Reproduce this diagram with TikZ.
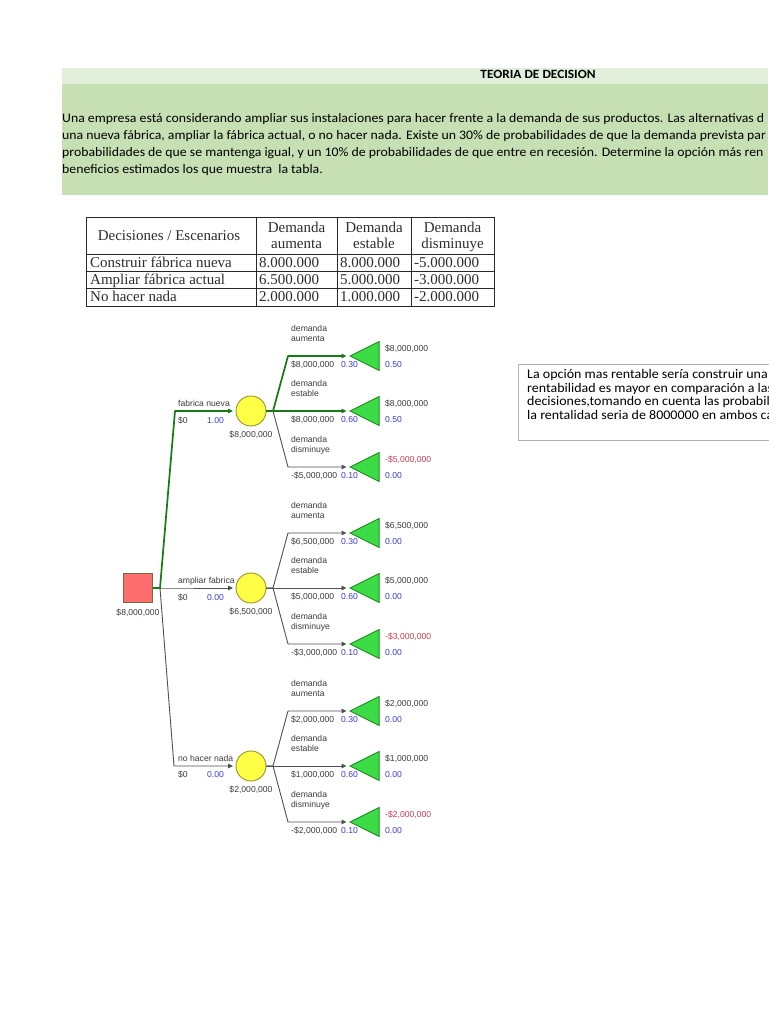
\documentclass[tikz,border=0pt]{standalone}
\usepackage{fontspec}
\usetikzlibrary{arrows.meta,shapes.geometric}
\newfontfamily\carl[FakeStretch=1.06]{Carlito}
\newfontfamily\ars{Liberation Sans}
\newfontfamily\tser{Liberation Serif}
\definecolor{bandLight}{RGB}{226,239,218}
\definecolor{bandMain}{RGB}{198,224,180}
\definecolor{treeGreen}{RGB}{22,122,22}
\definecolor{treeGray}{RGB}{80,80,80}
\definecolor{labelGray}{RGB}{60,60,60}
\definecolor{probBlue}{RGB}{60,60,205}
\definecolor{negRed}{RGB}{205,60,80}
\definecolor{triFill}{RGB}{60,220,70}
\definecolor{triDraw}{RGB}{30,140,30}
\definecolor{circFill}{RGB}{255,255,70}
\definecolor{circDraw}{RGB}{150,150,40}
\definecolor{sqFill}{RGB}{255,110,110}
\definecolor{sqDraw}{RGB}{110,110,60}
\definecolor{tabLine}{RGB}{40,40,40}
\definecolor{tabText}{RGB}{45,45,45}
\tikzset{
  gline/.style={draw=treeGreen,line width=1.7pt,line join=round},
  nline/.style={draw=treeGray,line width=0.9pt,line join=round},
  arr/.style={-{Triangle[length=5pt,width=4.5pt]},shorten >=2.5pt},
  lbl/.style={font=\ars\fontsize{8.6}{9}\selectfont,text=labelGray,inner sep=0pt,anchor=base west},
  plbl/.style={lbl,text=probBlue},
  nlbl/.style={lbl,text=negRed},
  clbl/.style={lbl,anchor=base},
  decbox/.style={rectangle,draw=sqDraw,fill=sqFill,line width=1pt,minimum size=29pt,inner sep=0pt},
  chnode/.style={circle,draw=circDraw,fill=circFill,line width=0.9pt,minimum size=30pt,inner sep=0pt},
  endtri/.style={isosceles triangle,isosceles triangle stretches,shape border rotate=180,
     draw=triDraw,fill=triFill,line width=0.9pt,minimum width=29pt,minimum height=29pt,inner sep=0pt},
  hdr/.style={font=\carl\fontsize{13.0}{17}\selectfont,inner sep=0pt,anchor=base west},
  boxtxt/.style={font=\carl\fontsize{13.2}{14}\selectfont,inner sep=0pt,anchor=base west},
  tabtxt/.style={font=\tser\fontsize{15}{15}\selectfont,text=tabText,inner sep=0pt,anchor=base west},
  tabhd/.style={tabtxt,anchor=base},
}
\begin{document}
\begin{tikzpicture}[x=1pt,y=-1pt]
\useasboundingbox (0,0) rectangle (768,1024);
\fill[white] (0,0) rectangle (768,1024);
% header bands
\fill[bandLight] (62,68) rectangle (768,84);
\fill[bandMain] (62,84) rectangle (768,195);
\node[font=\carl\bfseries\fontsize{12.6}{14}\selectfont,inner sep=0pt,anchor=base] (title) at (538,79) {TEORIA DE DECISION};
\node[hdr] (p1) at (62,123) {Una empresa está considerando ampliar sus instalaciones para hacer frente a la demanda de sus productos. Las alternativas d};
\node[hdr] (p2) at (62,140) {una nueva fábrica, ampliar la fábrica actual, o no hacer nada. Existe un 30\% de probabilidades de que la demanda prevista par};
\node[hdr] (p3) at (62,157) {probabilidades de que se mantenga igual, y un 10\% de probabilidades de que entre en recesión. Determine la opción más ren};
\node[hdr] (p4) at (62,174) {beneficios estimados los que muestra\ \ la tabla.};
% table
\draw[tabLine,line width=0.8pt] (86,217) rectangle (494,306);
\draw[tabLine,line width=0.8pt] (86,254) -- (494,254) (86,271) -- (494,271) (86,288) -- (494,288);
\draw[tabLine,line width=0.8pt] (256,217) -- (256,306) (337,217) -- (337,306) (411,217) -- (411,306);
\node[tabhd] (h0) at (169,240.5) {Decisiones / Escenarios};
\node[tabhd] (h1a) at (296.5,232.5) {Demanda};
\node[tabhd] (h1b) at (296.5,248.5) {aumenta};
\node[tabhd] (h2a) at (374,232.5) {Demanda};
\node[tabhd] (h2b) at (374,248.5) {estable};
\node[tabhd] (h3a) at (452.5,232.5) {Demanda};
\node[tabhd] (h3b) at (452.5,248.5) {disminuye};
\node[tabtxt] (r1) at (90,267) {Construir fábrica nueva};
\node[tabtxt] (r2) at (90,284.5) {Ampliar fábrica actual};
\node[tabtxt] (r3) at (90,301.5) {No hacer nada};
\node[tabtxt] (v11) at (259,267) {8.000.000};
\node[tabtxt] (v12) at (340,267) {8.000.000};
\node[tabtxt] (v13) at (414,267) {-5.000.000};
\node[tabtxt] (v21) at (259,284.5) {6.500.000};
\node[tabtxt] (v22) at (340,284.5) {5.000.000};
\node[tabtxt] (v23) at (414,284.5) {-3.000.000};
\node[tabtxt] (v31) at (259,301.5) {2.000.000};
\node[tabtxt] (v32) at (340,301.5) {1.000.000};
\node[tabtxt] (v33) at (414,301.5) {-2.000.000};
% tree nodes
\node[decbox] (d) at (138,588) {};
\node[clbl] (dv) at (138,615) {\$8,000,000};
\foreach \i/\cy/\val in {1/411/{\$8,000,000},2/588/{\$6,500,000},3/766/{\$2,000,000}}{
  \node[chnode] (c\i) at (251,\cy) {};
  \node[clbl] (cv\i) at (251,\cy+26) {\val};
  \node[endtri,anchor=apex] (t\i1) at (349,\cy-55) {};
  \node[endtri,anchor=apex] (t\i2) at (349,\cy) {};
  \node[endtri,anchor=apex] (t\i3) at (349,\cy+56) {};
}
% decision branches
\draw[nline,arr] (d.east) -- (160,588) -- (c2.west);
\draw[nline,arr] (d.east) -- (160,588) -- (174,766) -- (c3.west);
\draw[gline,arr] (d.east) -- (160,588) -- (175,411) -- (c1.west);
% chance branches
\foreach \i/\cy in {2/588,3/766}{
  \draw[nline,arr] (c\i.east) -- (273,\cy) -- (288,\cy-55) -- (t\i1.apex);
  \draw[nline,arr] (c\i.east) -- (t\i2.apex);
  \draw[nline,arr] (c\i.east) -- (273,\cy) -- (288,\cy+56) -- (t\i3.apex);
}
\draw[nline,arr] (c1.east) -- (273,411) -- (288,467) -- (t13.apex);
\draw[gline,arr] (c1.east) -- (t12.apex);
\draw[gline,arr] (c1.east) -- (273,411) -- (288,356) -- (t11.apex);
% decision branch labels
\node[lbl] (b1) at (178,406) {fabrica nueva};
\node[lbl] (b1v) at (178,423) {\$0};
\node[plbl] (b1p) at (207,423) {1.00};
\node[lbl] (b2) at (178,583) {ampliar fabrica};
\node[lbl] (b2v) at (178,600) {\$0};
\node[plbl] (b2p) at (207,600) {0.00};
\node[lbl] (b3) at (178,761) {no hacer nada};
\node[lbl] (b3v) at (178,777) {\$0};
\node[plbl] (b3p) at (207,777) {0.00};
% chance branch labels
\foreach \cy/\va/\vb/\vc/\pa/\pb/\pc/\na/\nb/\nc in {
  411/{\$8,000,000}/{\$8,000,000}/{-\$5,000,000}/0.50/0.50/0.00/a1/a2/a3,
  588/{\$6,500,000}/{\$5,000,000}/{-\$3,000,000}/0.00/0.00/0.00/m1/m2/m3,
  766/{\$2,000,000}/{\$1,000,000}/{-\$2,000,000}/0.00/0.00/0.00/n1/n2/n3}{
  \node[lbl] (\na w1) at (291,\cy-55-25) {demanda};
  \node[lbl] (\na w2) at (291,\cy-55-15) {aumenta};
  \node[lbl] (\na v) at (291,\cy-55+11) {\va};
  \node[plbl] (\na p) at (341,\cy-55+11) {0.30};
  \node[lbl] (\na r) at (385,\cy-55-5) {\va};
  \node[plbl] (\na q) at (385,\cy-55+11) {\pa};
  \node[lbl] (\nb w1) at (291,\cy-25) {demanda};
  \node[lbl] (\nb w2) at (291,\cy-15) {estable};
  \node[lbl] (\nb v) at (291,\cy+11) {\vb};
  \node[plbl] (\nb p) at (341,\cy+11) {0.60};
  \node[lbl] (\nb r) at (385,\cy-5) {\vb};
  \node[plbl] (\nb q) at (385,\cy+11) {\pb};
  \node[lbl] (\nc w1) at (291,\cy+56-25) {demanda};
  \node[lbl] (\nc w2) at (291,\cy+56-15) {disminuye};
  \node[lbl] (\nc v) at (291,\cy+56+11) {\vc};
  \node[plbl] (\nc p) at (341,\cy+56+11) {0.10};
  \node[nlbl] (\nc r) at (385,\cy+56-5) {\vc};
  \node[plbl] (\nc q) at (385,\cy+56+11) {\pc};
}
% conclusion box
\draw[draw=black!30,line width=0.8pt] (518,364) rectangle (780,440);
\node[boxtxt] (k1) at (527,378) {La opción mas rentable sería construir una};
\node[boxtxt] (k2) at (527,392) {rentabilidad es mayor en comparación a las};
\node[boxtxt] (k3) at (527,405) {decisiones,tomando en cuenta las probabil};
\node[boxtxt] (k4) at (527,419) {la rentalidad seria de 8000000 en ambos ca};
\end{tikzpicture}
\end{document}
